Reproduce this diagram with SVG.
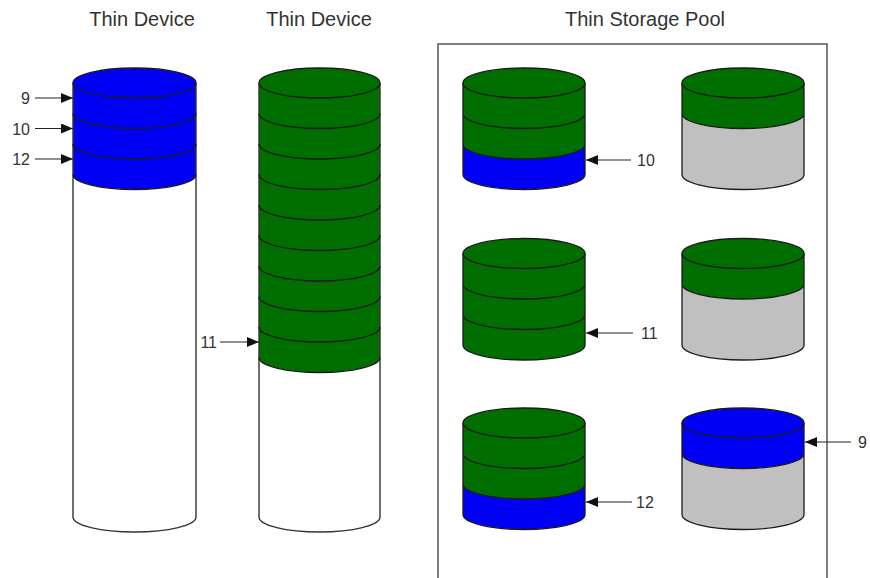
<svg xmlns="http://www.w3.org/2000/svg" width="870" height="578" viewBox="0 0 870 578">
  <defs>
    <marker id="ah" viewBox="0 0 12 10" refX="12" refY="5" markerWidth="12" markerHeight="10" markerUnits="userSpaceOnUse" orient="auto">
      <path d="M0,0 L12,5 L0,10 Z" fill="#111"/>
    </marker>
    <style>
      .title{font-family:"Liberation Sans",Arial,sans-serif;font-size:20px;fill:#333}
      .lbl{font-family:"Liberation Sans",Arial,sans-serif;font-size:16px;fill:#333}
      .blue{fill:#0000f5;stroke:none}
      .green{fill:#006f00;stroke:none}
      .gray{fill:#c0c0c0;stroke:none}
      .white{fill:#fff;stroke:none}
      .ln{fill:none;stroke:#1a1a1a;stroke-width:1.3}
      .outl{fill:none;stroke:#333;stroke-width:1.4}
      .conn{fill:none;stroke:#222;stroke-width:1.2;marker-end:url(#ah)}
    </style>
  </defs>
  <rect width="870" height="578" fill="#fff"/>

  <g id="titles">
    <text class="title" x="142" y="26" text-anchor="middle">Thin Device</text>
    <text class="title" x="319" y="26" text-anchor="middle">Thin Device</text>
    <text class="title" x="645" y="26" text-anchor="middle">Thin Storage Pool</text>
  </g>

  <g id="pool-box">
    <rect x="438" y="44" width="389" height="600" fill="none" stroke="#555" stroke-width="1.5"/>
  </g>

  <g id="thin-device-1">
    <path class="white" d="M73,174.5 L73,517 A61.5,15 0 0 0 196,517 L196,174.5 Z"/>
    <path class="blue" d="M73,83 L73,174.5 A61.5,15 0 0 0 196,174.5 L196,83 Z"/>
    <path class="outl" d="M73,83 L73,517 A61.5,15 0 0 0 196,517 L196,83"/>
    <path class="ln" d="M73,113.5 A61.5,15 0 0 0 196,113.5 M73,144 A61.5,15 0 0 0 196,144 M73,174.5 A61.5,15 0 0 0 196,174.5"/>
    <ellipse class="blue" cx="134.5" cy="83" rx="61.5" ry="15"/>
    <ellipse class="ln" cx="134.5" cy="83" rx="61.5" ry="15"/>
  </g>

  <g id="thin-device-2">
    <path class="white" d="M259,357.5 L259,517 A60.5,15 0 0 0 380,517 L380,357.5 Z"/>
    <path class="green" d="M259,83 L259,357.5 A60.5,15 0 0 0 380,357.5 L380,83 Z"/>
    <path class="outl" d="M259,83 L259,517 A60.5,15 0 0 0 380,517 L380,83"/>
    <path class="ln" d="M259,113.5 A60.5,15 0 0 0 380,113.5 M259,144 A60.5,15 0 0 0 380,144 M259,174.5 A60.5,15 0 0 0 380,174.5 M259,205 A60.5,15 0 0 0 380,205 M259,235.5 A60.5,15 0 0 0 380,235.5 M259,266 A60.5,15 0 0 0 380,266 M259,296.5 A60.5,15 0 0 0 380,296.5 M259,327 A60.5,15 0 0 0 380,327 M259,357.5 A60.5,15 0 0 0 380,357.5"/>
    <ellipse class="green" cx="319.5" cy="83" rx="60.5" ry="15"/>
    <ellipse class="ln" cx="319.5" cy="83" rx="60.5" ry="15"/>
  </g>

  <g id="pool-disk-1">
    <path class="blue" d="M463,144 L463,174.5 A61,15 0 0 0 585,174.5 L585,144 Z"/>
    <path class="green" d="M463,83 L463,144 A61,15 0 0 0 585,144 L585,83 Z"/>
    <path class="ln" d="M463,83 L463,174.5 A61,15 0 0 0 585,174.5 L585,83 M463,113.5 A61,15 0 0 0 585,113.5 M463,144 A61,15 0 0 0 585,144"/>
    <ellipse class="green" cx="524" cy="83" rx="61" ry="15"/>
    <ellipse class="ln" cx="524" cy="83" rx="61" ry="15"/>
  </g>

  <g id="pool-disk-2">
    <path class="gray" d="M682,113.5 L682,174.5 A61,15 0 0 0 804,174.5 L804,113.5 Z"/>
    <path class="green" d="M682,83 L682,113.5 A61,15 0 0 0 804,113.5 L804,83 Z"/>
    <path class="ln" d="M682,83 L682,174.5 A61,15 0 0 0 804,174.5 L804,83 M682,113.5 A61,15 0 0 0 804,113.5"/>
    <ellipse class="green" cx="743" cy="83" rx="61" ry="15"/>
    <ellipse class="ln" cx="743" cy="83" rx="61" ry="15"/>
  </g>

  <g id="pool-disk-3">
    <path class="green" d="M463,253.5 L463,345 A61,15 0 0 0 585,345 L585,253.5 Z"/>
    <path class="ln" d="M463,253.5 L463,345 A61,15 0 0 0 585,345 L585,253.5 M463,284 A61,15 0 0 0 585,284 M463,314.5 A61,15 0 0 0 585,314.5"/>
    <ellipse class="green" cx="524" cy="253.5" rx="61" ry="15"/>
    <ellipse class="ln" cx="524" cy="253.5" rx="61" ry="15"/>
  </g>

  <g id="pool-disk-4">
    <path class="gray" d="M682,284 L682,345 A61,15 0 0 0 804,345 L804,284 Z"/>
    <path class="green" d="M682,253.5 L682,284 A61,15 0 0 0 804,284 L804,253.5 Z"/>
    <path class="ln" d="M682,253.5 L682,345 A61,15 0 0 0 804,345 L804,253.5 M682,284 A61,15 0 0 0 804,284"/>
    <ellipse class="green" cx="743" cy="253.5" rx="61" ry="15"/>
    <ellipse class="ln" cx="743" cy="253.5" rx="61" ry="15"/>
  </g>

  <g id="pool-disk-5">
    <path class="blue" d="M463,484 L463,514.5 A61,15 0 0 0 585,514.5 L585,484 Z"/>
    <path class="green" d="M463,423 L463,484 A61,15 0 0 0 585,484 L585,423 Z"/>
    <path class="ln" d="M463,423 L463,514.5 A61,15 0 0 0 585,514.5 L585,423 M463,453.5 A61,15 0 0 0 585,453.5 M463,484 A61,15 0 0 0 585,484"/>
    <ellipse class="green" cx="524" cy="423" rx="61" ry="15"/>
    <ellipse class="ln" cx="524" cy="423" rx="61" ry="15"/>
  </g>

  <g id="pool-disk-6">
    <path class="gray" d="M682,453.5 L682,514.5 A61,15 0 0 0 804,514.5 L804,453.5 Z"/>
    <path class="blue" d="M682,423 L682,453.5 A61,15 0 0 0 804,453.5 L804,423 Z"/>
    <path class="ln" d="M682,423 L682,514.5 A61,15 0 0 0 804,514.5 L804,423 M682,453.5 A61,15 0 0 0 804,453.5"/>
    <ellipse class="blue" cx="743" cy="423" rx="61" ry="15"/>
    <ellipse class="ln" cx="743" cy="423" rx="61" ry="15"/>
  </g>

  <g id="connectors">
    <line class="conn" x1="35" y1="98" x2="73" y2="98"/>
    <line class="conn" x1="35" y1="128.5" x2="73" y2="128.5"/>
    <line class="conn" x1="35" y1="159" x2="73" y2="159"/>
    <line class="conn" x1="220" y1="342" x2="259" y2="342"/>
    <line class="conn" x1="631" y1="160" x2="586" y2="160"/>
    <line class="conn" x1="633" y1="333" x2="586" y2="333"/>
    <line class="conn" x1="632" y1="502" x2="586" y2="502"/>
    <line class="conn" x1="851" y1="442" x2="805" y2="442"/>
  </g>

  <g id="labels">
    <text class="lbl" x="30" y="104" text-anchor="end">9</text>
    <text class="lbl" x="30" y="134.5" text-anchor="end">10</text>
    <text class="lbl" x="30" y="165" text-anchor="end">12</text>
    <text class="lbl" x="217" y="348" text-anchor="end">11</text>
    <text class="lbl" x="637" y="166">10</text>
    <text class="lbl" x="641" y="339">11</text>
    <text class="lbl" x="636" y="508">12</text>
    <text class="lbl" x="858" y="448">9</text>
  </g>
</svg>
